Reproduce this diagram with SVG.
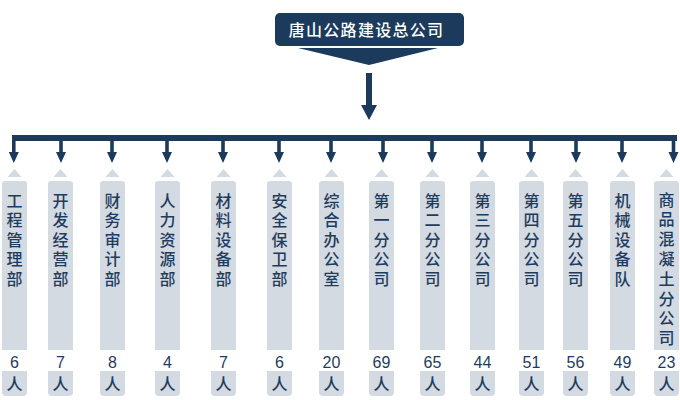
<svg xmlns="http://www.w3.org/2000/svg" width="680" height="400" viewBox="0 0 680 400">
<style>
.navy{fill:#1c3a5b}
.col{fill:#d3dae2}
.t{font-family:"Noto Sans CJK SC","Noto Sans",sans-serif;font-size:16px;font-weight:500;fill:#1f3c5e;text-anchor:middle}
.n{font-family:"Liberation Sans",Arial,sans-serif;font-size:16px;fill:#1f3c5e;text-anchor:middle}
.title{font-family:"Noto Sans CJK SC","Noto Sans",sans-serif;font-size:16px;font-weight:500;fill:#ffffff;text-anchor:middle}
</style>
<defs>
<path id="arr" d="M-1.8 0 H1.8 V11 H5 L0 22 L-5 11 H-1.8 Z"/>
<g id="colbox">
<path d="M-7 177 L0 169 L7 177 Z"/>
<path d="M-12.5 184 Q-12.5 181 -9.5 181 H9.5 Q12.5 181 12.5 184 V350 H-12.5 Z"/>
<path d="M-12.5 371 H12.5 V392 Q12.5 396 8.5 396 H-8.5 Q-12.5 396 -12.5 392 Z"/>
</g>
</defs>
<g id="root">
<rect x="275" y="13" width="189" height="33" rx="5" class="navy"/>
<path d="M298 48 H438 L369 65 Z" class="navy"/>
<text class="title" x="296.7 314 331.3 348.6 365.9 383.2 400.5 417.8 435.1" y="36">唐山公路建设总公司</text>
</g>
<g id="connectors" class="navy">
<rect x="366" y="73" width="6" height="33"/>
<path d="M361 105 H377 L369 120 Z"/>
<rect x="12" y="135" width="665" height="6"/>
<use href="#arr" x="13.8" y="141"/>
<use href="#arr" x="61" y="141"/>
<use href="#arr" x="112" y="141"/>
<use href="#arr" x="167" y="141"/>
<use href="#arr" x="223" y="141"/>
<use href="#arr" x="279" y="141"/>
<use href="#arr" x="331" y="141"/>
<use href="#arr" x="383" y="141"/>
<use href="#arr" x="432" y="141"/>
<use href="#arr" x="482" y="141"/>
<use href="#arr" x="531" y="141"/>
<use href="#arr" x="576" y="141"/>
<use href="#arr" x="622" y="141"/>
<use href="#arr" x="673.5" y="141"/>
</g>
<g id="n1"><use href="#colbox" x="14.5" class="col"/><text class="t" x="14.5 14.5 14.5 14.5 14.5" y="206.5 226 245.5 265 284.5">工程管理部</text><text class="n" x="14.5" y="368">6</text><text class="t" x="14.5" y="390">人</text></g>
<g id="n2"><use href="#colbox" x="60.5" class="col"/><text class="t" x="60.5 60.5 60.5 60.5 60.5" y="206.5 226 245.5 265 284.5">开发经营部</text><text class="n" x="60.5" y="368">7</text><text class="t" x="60.5" y="390">人</text></g>
<g id="n3"><use href="#colbox" x="112.5" class="col"/><text class="t" x="112.5 112.5 112.5 112.5 112.5" y="206.5 226 245.5 265 284.5">财务审计部</text><text class="n" x="112.5" y="368">8</text><text class="t" x="112.5" y="390">人</text></g>
<g id="n4"><use href="#colbox" x="167.5" class="col"/><text class="t" x="167.5 167.5 167.5 167.5 167.5" y="206.5 226 245.5 265 284.5">人力资源部</text><text class="n" x="167.5" y="368">4</text><text class="t" x="167.5" y="390">人</text></g>
<g id="n5"><use href="#colbox" x="223.5" class="col"/><text class="t" x="223.5 223.5 223.5 223.5 223.5" y="206.5 226 245.5 265 284.5">材料设备部</text><text class="n" x="223.5" y="368">7</text><text class="t" x="223.5" y="390">人</text></g>
<g id="n6"><use href="#colbox" x="279.5" class="col"/><text class="t" x="279.5 279.5 279.5 279.5 279.5" y="206.5 226 245.5 265 284.5">安全保卫部</text><text class="n" x="279.5" y="368">6</text><text class="t" x="279.5" y="390">人</text></g>
<g id="n7"><use href="#colbox" x="331.5" class="col"/><text class="t" x="331.5 331.5 331.5 331.5 331.5" y="206.5 226 245.5 265 284.5">综合办公室</text><text class="n" x="331.5" y="368">20</text><text class="t" x="331.5" y="390">人</text></g>
<g id="n8"><use href="#colbox" x="381.5" class="col"/><text class="t" x="381.5 381.5 381.5 381.5 381.5" y="206.5 226 245.5 265 284.5">第一分公司</text><text class="n" x="381.5" y="368">69</text><text class="t" x="381.5" y="390">人</text></g>
<g id="n9"><use href="#colbox" x="432.5" class="col"/><text class="t" x="432.5 432.5 432.5 432.5 432.5" y="206.5 226 245.5 265 284.5">第二分公司</text><text class="n" x="432.5" y="368">65</text><text class="t" x="432.5" y="390">人</text></g>
<g id="n10"><use href="#colbox" x="482.5" class="col"/><text class="t" x="482.5 482.5 482.5 482.5 482.5" y="206.5 226 245.5 265 284.5">第三分公司</text><text class="n" x="482.5" y="368">44</text><text class="t" x="482.5" y="390">人</text></g>
<g id="n11"><use href="#colbox" x="531.5" class="col"/><text class="t" x="531.5 531.5 531.5 531.5 531.5" y="206.5 226 245.5 265 284.5">第四分公司</text><text class="n" x="531.5" y="368">51</text><text class="t" x="531.5" y="390">人</text></g>
<g id="n12"><use href="#colbox" x="575.5" class="col"/><text class="t" x="575.5 575.5 575.5 575.5 575.5" y="206.5 226 245.5 265 284.5">第五分公司</text><text class="n" x="575.5" y="368">56</text><text class="t" x="575.5" y="390">人</text></g>
<g id="n13"><use href="#colbox" x="622.5" class="col"/><text class="t" x="622.5 622.5 622.5 622.5 622.5" y="206.5 226 245.5 265 284.5">机械设备队</text><text class="n" x="622.5" y="368">49</text><text class="t" x="622.5" y="390">人</text></g>
<g id="n14"><use href="#colbox" x="666.5" class="col"/><text class="t" x="666.5 666.5 666.5 666.5 666.5 666.5 666.5 666.5" y="205.5 225.3 245.1 264.9 284.7 304.5 324.3 344.1">商品混凝土分公司</text><text class="n" x="666.5" y="368">23</text><text class="t" x="666.5" y="390">人</text></g>
</svg>
